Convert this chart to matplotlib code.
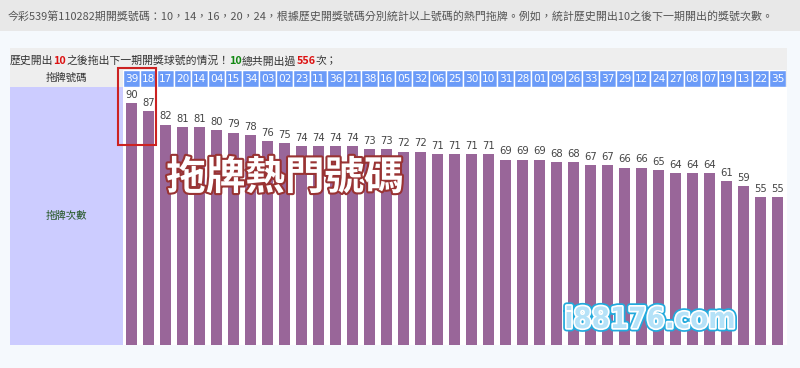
import matplotlib
matplotlib.use("Agg")
import matplotlib.pyplot as plt
from matplotlib.patches import Rectangle
import matplotlib.patheffects as pe

# 拖牌號碼 and how often each one followed a draw of 10
numbers = ["39", "18", "17", "20", "14", "04", "15", "34", "03", "02", "23", "11", "36",
           "21", "38", "16", "05", "32", "06", "25", "30", "10", "31", "28", "01", "09",
           "26", "33", "37", "29", "12", "24", "27", "08", "07", "19", "13", "22", "35"]
counts = [90, 87, 82, 81, 81, 80, 79, 78, 76, 75, 74, 74, 74, 74, 73, 73, 72, 72, 71, 71,
          71, 71, 69, 69, 69, 68, 68, 67, 67, 66, 66, 65, 64, 64, 64, 61, 59, 55, 55]

intro = "今彩539第110282期開獎號碼：10，14，16，20，24，根據歷史開獎號碼分別統計以上號碼的熱門拖牌。例如，統計歷史開出10之後下一期開出的獎號次數。"
summary = [("歷史開出", "#333333", False), ("10", "#dd1111", True),
           ("之後拖出下一期開獎球號的情況！", "#333333", False), ("10", "#118811", True),
           ("總共開出過", "#333333", False), ("556", "#dd1111", True), ("次；", "#333333", False)]

cjk = ["Noto Sans CJK TC", "DejaVu Sans"]
plt.rcParams["font.family"] = cjk

W, H = 800, 368
fig = plt.figure(figsize=(W / 100, H / 100), dpi=100)
fig.patch.set_facecolor("#f5f9fd")


def box(x0, y0, x1, y1, color, fill=True, lw=0):
    fig.add_artist(Rectangle((x0 / W, 1 - y1 / H), (x1 - x0) / W, (y1 - y0) / H,
                             transform=fig.transFigure, facecolor=color if fill else "none",
                             edgecolor=color, lw=lw, zorder=5 if not fill else 0))


# page blocks
box(0, 0, W, 31, "#e8e8e8")
box(10, 48, 787, 87, "#eeeeee")
box(10, 87, 123, 345, "#ccccff")
box(123, 87, 787, 345, "white")

fig.text(8 / W, 1 - 16 / H, intro, fontsize=7.9, color="#555555", va="center")

r = fig.canvas.get_renderer()
x = 10
for s, c, bold in summary:
    t = fig.text(x / W, 1 - 61 / H, s, color=c, fontsize=7.8, va="center",
                 fontweight="bold" if bold else "normal")
    x += t.get_window_extent(r).width

fig.text(66 / W, 1 - 78 / H, "拖牌號碼", fontsize=7.5, color="#333333", ha="center", va="center")
fig.text(66 / W, 1 - 216 / H, "拖牌次數", fontsize=7.5, color="#225522", ha="center", va="center")

# header cells
hx = fig.add_axes([123 / W, (H - 87) / H, 663 / W, 17 / H])
hx.bar(range(len(numbers)), [1] * len(numbers), width=1, color="#6b9bf8",
       edgecolor="white", linewidth=1)
for i, n in enumerate(numbers):
    hx.text(i, 0.5, n, color="white", fontsize=7.6, ha="center", va="center", family="DejaVu Sans")
hx.set_xlim(-0.5, len(numbers) - 0.5)
hx.set_ylim(0, 1)
hx.axis("off")

# bars
ax = fig.add_axes([123 / W, (H - 345) / H, 663 / W, (345 - 87) / H])
ax.bar(range(len(counts)), counts, width=0.6, color="#996699")
for i, v in enumerate(counts):
    ax.text(i, v + 1.2, str(v), ha="center", va="bottom", fontsize=7.2, color="#444444",
            family="DejaVu Sans")
ax.set_xlim(-0.5, len(counts) - 0.5)
ax.set_ylim(0, 96)
ax.axis("off")

# highlight box on the top two
box(118, 68, 156, 145, "#cc2222", fill=False, lw=1.5)

# watermarks
fig.text(285 / W, 1 - 178 / H, "拖牌熱門號碼", fontsize=28.5, fontweight="heavy", color="white",
         ha="center", va="center", zorder=10,
         path_effects=[pe.withStroke(linewidth=3, foreground="#993333")])
fig.text(650 / W, 1 - 320 / H, "i88176.com", fontsize=21, fontweight="bold", color="#b5e2f8",
         ha="center", va="center", family="DejaVu Sans", stretch="condensed", zorder=10,
         path_effects=[pe.Stroke(linewidth=5, foreground="#22aadd"),
                       pe.Stroke(linewidth=2.5, foreground="white"), pe.Normal()])

fig.savefig("out.png", dpi=100)
